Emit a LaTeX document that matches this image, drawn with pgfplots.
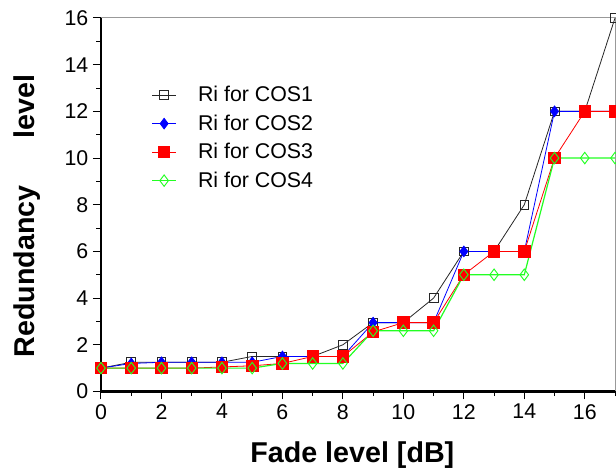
\documentclass[border=0pt]{standalone}
\usepackage{pgfplots}
\pgfplotsset{compat=1.18}
\usepackage{pgfplotstable}
\usepackage{fontspec}
\setmainfont{Liberation Sans}
\definecolor{cosgreen}{HTML}{22FF22}

% Ri per fade level, one column per class of service
\pgfplotstableread{
x  c1   c2   c3   c4
0  1    1    1    1
1  1.25 1.2  1    1
2  1.25 1.25 1    1
3  1.25 1.25 1    1
4  1.25 1.25 1.05 1
5  1.5  1.25 1.1  1
6  1.5  1.5  1.2  1.2
7  1.5  1.5  1.5  1.2
8  2    1.5  1.5  1.2
9  2.95 2.95 2.55 2.6
10 2.95 2.95 2.95 2.6
11 4    2.95 2.95 2.6
12 6    6    5    5
13 6    6    6    5
14 8    6    6    5
15 12   12   10   10
16 12   12   12   10
17 16   12   12   10
}\ritable

\begin{document}
\begin{tikzpicture}
\begin{axis}[
  scale only axis, width=385.5pt, height=280.1pt,
  xmin=0, xmax=17, ymin=0, ymax=16,
  xtick={0,2,...,16}, minor xtick={1,3,...,17},
  ytick={0,2,...,16}, minor ytick={1,3,...,15},
  tick pos=left, tick align=outside,
  major tick length=6pt, minor tick length=3.5pt,
  every tick/.style={black, line width=0.75pt},
  axis line style={draw=none},
  clip=false,
  /pgf/number format/assume math mode=true,
  tick label style={font=\fontsize{16}{19}\selectfont},
  xlabel={Fade level [dB]},
  ylabel={Redundancy\hspace{1.65em}level},
  label style={font=\bfseries\fontsize{21.5}{25}\selectfont},
  xlabel style={at={(axis description cs:0.489,-0.17)}, anchor=center},
  ylabel style={at={(axis description cs:-0.144,0.47)}, anchor=center},
  legend style={draw=none, fill=none, at={(axis description cs:0.09,0.832)}, anchor=north west,
    font=\fontsize{16}{19}\selectfont, row sep=4.3pt, column sep=14pt},
  legend cell align=left,
  legend image code/.code={\draw[#1, mark repeat=2, mark phase=2] plot coordinates {(0pt,0pt) (9pt,0pt) (18pt,0pt)};},
]
\draw[gray!80, line width=0.75pt] (rel axis cs:0,1) -- (rel axis cs:1,1) -- (rel axis cs:1,0);
\draw[black, line width=1.6pt] (rel axis cs:0,1) -- (rel axis cs:0,0) -- (rel axis cs:1,0);
\coordinate (sw) at (rel axis cs:0,0);
\coordinate (ne) at (rel axis cs:1,1);

\addplot[black!85, line width=0.6pt, mark=square, mark size=3.3pt, mark options={solid, fill=none, line width=0.6pt}] table[x=x, y=c1] {\ritable};
\addlegendentry{Ri for COS1}
\addplot[blue, line width=0.6pt, mark=diamond*, mark size=4pt, mark options={solid, fill=blue}] table[x=x, y=c2] {\ritable};
\addlegendentry{Ri for COS2}
\addplot[red, line width=0.6pt, mark=square*, mark size=4.3pt, mark options={solid, fill=red, draw=red}] table[x=x, y=c3] {\ritable};
\addlegendentry{Ri for COS3}
\addplot[cosgreen, line width=0.9pt, mark=diamond, mark size=4.3pt, mark options={solid, fill=none, line width=0.7pt}] table[x=x, y=c4] {\ritable};
\addlegendentry{Ri for COS4}
\end{axis}
\pgfresetboundingbox
\path[use as bounding box] ([xshift=-75.75pt, yshift=-61.9pt]sw) rectangle ([xshift=0.75pt, yshift=13.5pt]ne);
\end{tikzpicture}
\end{document}
